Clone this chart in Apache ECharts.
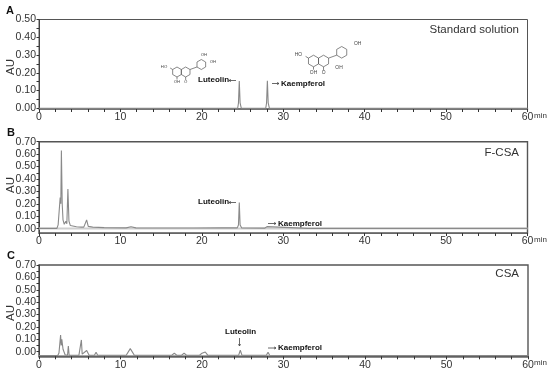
<!DOCTYPE html>
<html><head><meta charset="utf-8">
<style>html,body{margin:0;padding:0;background:#fff}#c{width:550px;height:373px}</style>
<script src="https://cdn.jsdelivr.net/npm/echarts@6/dist/echarts.min.js"></script>
</head><body><div id="c"></div>
<script>
const xTicks = [0,10,20,30,40,50,60];
const timesA = [0,24.4,24.5,24.6,24.7,24.85,27.85,27.95,28.05,28.15,28.3,60];
const valuesA = [0,0,0.03,0.154,0.03,0,0,0.03,0.155,0.03,0,0];
const timesB = [0,2.2,2.35,2.6,2.68,2.75,2.85,2.95,3.1,3.3,3.42,3.55,3.68,3.85,4.6,5.2,5.5,5.85,6.05,6.6,8,10.7,11.3,11.9,14,19,22.5,24.35,24.5,24.6,24.7,24.9,27.7,28,28.2,33,60];
const valuesB = [0.002,0.002,0.03,0.25,0.2,0.63,0.2,0.07,0.035,0.06,0.04,0.32,0.06,0.025,0.015,0.012,0.012,0.07,0.018,0.012,0.008,0.006,0.016,0.006,0.005,0.005,0.007,0.006,0.03,0.21,0.03,0.005,0.004,0.016,0.004,0.002,0.002];
const baseTimesB = [0,60];
const baseValuesB = [0.002,0.002];
const timesC = [0,2.3,2.45,2.65,2.72,2.8,2.95,3.2,3.5,3.6,3.7,4.9,5.1,5.2,5.3,5.5,5.85,6.15,6.8,7,7.2,10.7,11.2,11.7,16.3,16.6,16.9,17.5,17.8,18.1,19.7,20,20.2,20.4,20.7,24.5,24.7,24.9,25.8,26,26.2,27.9,28.1,28.3,60];
const valuesC = [-0.03,-0.03,-0.01,0.135,0.05,0.1,0.02,-0.025,-0.028,0.045,-0.028,-0.028,-0.02,0.095,-0.02,-0.028,0.01,-0.028,-0.028,-0.005,-0.028,-0.028,0.025,-0.028,-0.028,-0.012,-0.028,-0.028,-0.012,-0.028,-0.028,-0.012,-0.02,-0.002,-0.028,-0.028,0.012,-0.028,-0.028,-0.02,-0.028,-0.028,-0.005,-0.028,-0.03];
const yTicksA = [0,0.1,0.2,0.3,0.4,0.5];
const yMinorA = [0,0.05,0.1,0.15,0.2,0.25,0.3,0.35,0.4,0.45,0.5];
const yTicksBC = [0,0.1,0.2,0.3,0.4,0.5,0.6,0.7];
const yMinorBC = [0,0.05,0.1,0.15,0.2,0.25,0.3,0.35,0.4,0.45,0.5,0.55,0.6,0.65,0.7];
const panelTitles = ['Standard solution','F-CSA','CSA'];
const panelLetters = ['A','B','C'];

const FONT = '"Liberation Sans", Arial, sans-serif';
const TXT = '#333';
const grids = [
  {left:39, width:488.5, top:19.5, height:89.5},
  {left:39, width:488.5, top:141.7, height:91.3},
  {left:39, width:489, top:265, height:91.3}
].map((g,i)=>({...g, show:true, borderColor:'#555', borderWidth:i?1.4:1, backgroundColor:'transparent'}));

const yMins = [-0.004,-0.035,-0.037], yMaxs = [0.5,0.7,0.7];
const xAxis = grids.map((_,i)=>({
  gridIndex:i, type:'value', min:0, max:60, interval:10,
  axisLine:{show:true, onZero:false, lineStyle:{color:'#666', width:i===1?1:1.6}},
  axisTick:{show:true, length:3, lineStyle:{color:'#333', width:1}},
  minorTick:{show:true, splitNumber:5, length:3, lineStyle:{color:'#333', width:1}},
  splitLine:{show:false}, minorSplitLine:{show:false},
  axisLabel:{color:TXT, fontFamily:FONT, fontSize:10.5, margin:3, hideOverlap:false, showMinLabel:true, showMaxLabel:true}
}));
const yAxis = grids.map((_,i)=>({
  gridIndex:i, type:'value', min:yMins[i], max:yMaxs[i],
  axisLine:{show:true, onZero:false, lineStyle:{color:'#444', width:1}},
  axisTick:{show:true, length:2.5, lineStyle:{color:'#333', width:1}, customValues:i?yMinorBC:yMinorA},
  splitLine:{show:false},
  axisLabel:{color:TXT, fontFamily:FONT, fontSize:10.5, margin:3, formatter:v=>v.toFixed(2), customValues:i?yTicksBC:yTicksA}
}));
const zip=(a,b)=>a.map((t,i)=>[t,b[i]]);
const mkLine=(data,i,color,width)=>({
  type:'line', xAxisIndex:i, yAxisIndex:i, data, showSymbol:false, symbol:'none', silent:true,
  lineStyle:{color,width}, clip:true, animation:false
});
const series = [
  mkLine(zip(baseTimesB,baseValuesB),1,'#cfcfcf',2),
  mkLine(zip(timesA,valuesA),0,'#888',1.1),
  mkLine(zip(timesB,valuesB),1,'#8a8a8a',1.1),
  mkLine(zip(timesC,valuesC),2,'#888',1.1)
];

const gfx=[];
const text=(x,y,s,o={})=>gfx.push({type:'text',x,y,silent:true,style:{text:s,fill:o.fill||TXT,font:`${o.weight||'normal'} ${o.size||10.5}px ${FONT}`,align:o.align||'left',verticalAlign:'middle'}});
const line=(x1,y1,x2,y2,c='#555',w=0.7)=>gfx.push({type:'line',silent:true,shape:{x1,y1,x2,y2},style:{stroke:c,lineWidth:w}});
const arrow=(x1,y1,x2,y2)=>{line(x1,y1,x2,y2,'#444',0.8);
  const a=Math.atan2(y2-y1,x2-x1),h=2.2;
  line(x2,y2,x2-h*Math.cos(a-0.5),y2-h*Math.sin(a-0.5),'#444',0.8);
  line(x2,y2,x2-h*Math.cos(a+0.5),y2-h*Math.sin(a+0.5),'#444',0.8);};

// panel text
[[6,11],[7,133],[7,256]].forEach(([x,y],i)=>text(x,y,panelLetters[i],{weight:'bold',size:11,fill:'#111'}));
[[519,30],[519,153],[519,274]].forEach(([x,y],i)=>text(x,y,panelTitles[i],{align:'right',size:11.5}));
[67,185,313].forEach(y=>gfx.push({type:'text',x:11,y,rotation:Math.PI/2,silent:true,style:{text:'AU',fill:TXT,font:`11.5px ${FONT}`,align:'center',verticalAlign:'middle'}}));
[116,240,363].forEach(y=>text(534,y,'min',{size:8}));

// peak annotations
const B={weight:'bold',size:8,fill:'#111'};
text(198,79.5,'Luteolin',B); arrow(236,80.5,229,80.5);
arrow(272,83.5,279,83.5); text(281,83.5,'Kaempferol',B);
text(198,202,'Luteolin',B); arrow(236,202.5,229,202.5);
arrow(268,223.5,276,223.5); text(278,223.5,'Kaempferol',B);
text(225,332,'Luteolin',B); arrow(239.5,338,239.5,346);
arrow(268,348,276,348); text(278,348,'Kaempferol',B);

// structures
function hex(cx,cy,r){const p=[];for(let k=0;k<6;k++){const a=Math.PI/6+k*Math.PI/3;p.push([cx+r*Math.cos(a),cy+r*Math.sin(a)]);}
  gfx.push({type:'polygon',silent:true,shape:{points:p},style:{fill:'none',stroke:'#555',lineWidth:0.7}});return p;}
function flavone(ax,ay,r,labels){
  const w=r*Math.cos(Math.PI/6);
  hex(ax,ay,r); hex(ax+2*w,ay,r);
  const bx=ax+4*w+r*1.4, by=ay-r*1.5;
  hex(bx,by,r);
  line(ax+3*w,ay-r/2,bx-w,by+r/2);
  labels.forEach(([dx,dy,s])=>text(ax+dx*r,ay+dy*r,s,{size:r*0.85,align:'center',fill:'#444'}));
  line(ax+2*w,ay+r,ax+2*w,ay+r*1.6);
  line(ax,ay+r,ax,ay+r*1.5);
  line(ax-w,ay-r/2,ax-w-r*0.5,ay-r*0.8);
}
flavone(177,72,5,[[-2.6,-1.05,'HO'],[0,1.95,'OH'],[1.75,1.95,'O'],[5.4,-3.4,'OH'],[7.2,-2.05,'OH']]);
flavone(313.5,61,5.8,[[-2.6,-1.05,'HO'],[0,2,'OH'],[1.75,2.05,'O'],[4.4,1.1,'OH'],[7.6,-3,'OH']]);

const chart=echarts.init(document.getElementById('c'),null,{renderer:'canvas'});
chart.setOption({animation:false,backgroundColor:'#fff',grid:grids,xAxis,yAxis,series,graphic:gfx});
</script></body></html>
